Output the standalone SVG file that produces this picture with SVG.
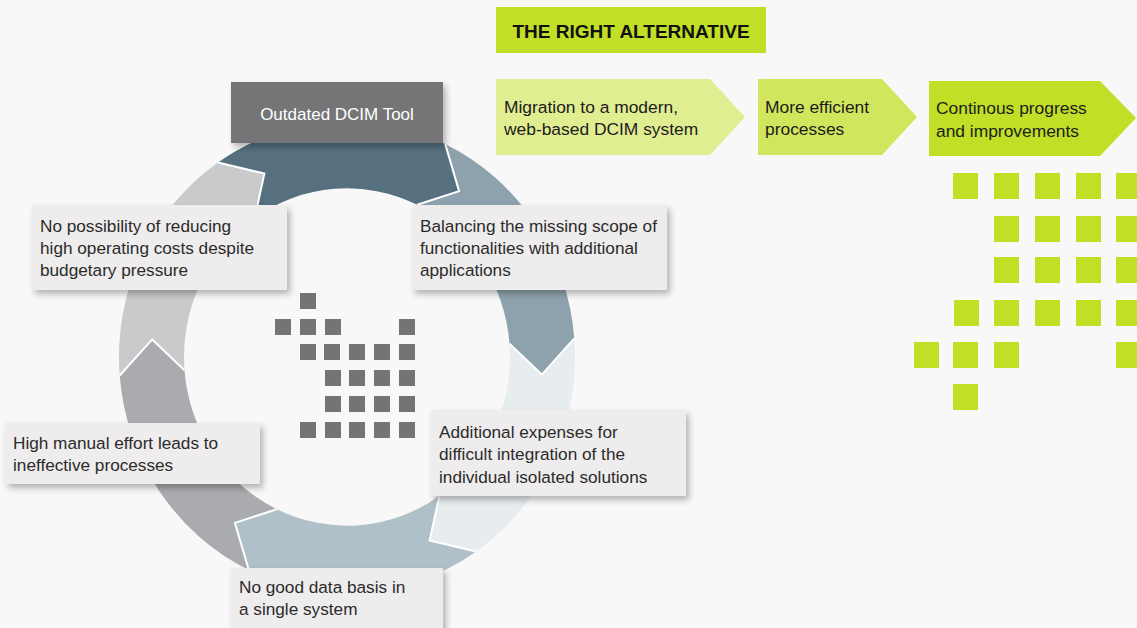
<svg xmlns="http://www.w3.org/2000/svg" width="1137" height="628" viewBox="0 0 1137 628">
  <defs>
    <filter id="shadow" x="-10%" y="-20%" width="125%" height="150%">
      <feDropShadow dx="3" dy="4" stdDeviation="3" flood-color="#000" flood-opacity="0.28"/>
    </filter>
    <style>
      text { font-family: "Liberation Sans", Arial, sans-serif; }
      .box { fill: #eeecec; filter: url(#shadow); }
      .txt { font-size: 17.2px; fill: #2b2b2b; }
      .ctxt { font-size: 17.4px; fill: #1c1c1c; }
      .edge { fill: none; stroke: #ffffff; stroke-width: 2; vector-effect: non-scaling-stroke; stroke-linejoin: miter; }
      .gsq { fill: #737476; }
      .lsq { fill: #c0df25; }
    </style>
  </defs>

  <rect width="1137" height="628" fill="#f8f8f8"/>

  <!-- cycle of six arrow segments -->
  <g id="connectors" transform="translate(347,357) scale(1,1.035)">
    <path id="seg-a" fill="#56707f" d="M -129.1,-187.9 A 228 228 0 0 1 98.2,-205.8 L 112.1,-160.2 L 70.2,-147.1 A 163 163 0 0 0 -92.3,-134.3 L -82.6,-177.2 Z"/>
    <path id="seg-b" fill="#8ea2ad" d="M 98.2,-205.8 A 228 228 0 0 1 227.3,-17.9 L 194.8,17.0 L 162.5,-12.8 A 163 163 0 0 0 70.2,-147.1 L 112.1,-160.2 Z"/>
    <path id="seg-c" fill="#e7ecef" d="M 227.3,-17.9 A 228 228 0 0 1 129.1,187.9 L 82.6,177.2 L 92.3,134.3 A 163 163 0 0 0 162.5,-12.8 L 194.8,17.0 Z"/>
    <path id="seg-d" fill="#afc0c8" d="M 129.1,187.9 A 228 228 0 0 1 -98.2,205.8 L -112.1,160.2 L -70.2,147.1 A 163 163 0 0 0 92.3,134.3 L 82.6,177.2 Z"/>
    <path id="seg-e" fill="#aaabae" d="M -98.2,205.8 A 228 228 0 0 1 -227.3,17.9 L -194.8,-17.0 L -162.5,12.8 A 163 163 0 0 0 -70.2,147.1 L -112.1,160.2 Z"/>
    <path id="seg-f" fill="#c9cacc" d="M -227.3,17.9 A 228 228 0 0 1 -129.1,-187.9 L -82.6,-177.2 L -92.3,-134.3 A 163 163 0 0 0 -162.5,12.8 L -194.8,-17.0 Z"/>
    <!-- white rims along each arrow head -->
    <polyline class="edge" points="98.2,-205.8 112.1,-160.2 70.2,-147.1"/>
    <polyline class="edge" points="227.3,-17.9 194.8,17.0 162.5,-12.8"/>
    <polyline class="edge" points="129.1,187.9 82.6,177.2 92.3,134.3"/>
    <polyline class="edge" points="-98.2,205.8 -112.1,160.2 -70.2,147.1"/>
    <polyline class="edge" points="-227.3,17.9 -194.8,-17.0 -162.5,12.8"/>
    <polyline class="edge" points="-129.1,-187.9 -82.6,-177.2 -92.3,-134.3"/>
  </g>

  <!-- pixel motif in the middle of the cycle -->
  <g id="gray-pixels">
    <rect class="gsq" x="300" y="293" width="16" height="16"/>
    <rect class="gsq" x="275" y="319" width="16" height="16"/>
    <rect class="gsq" x="300" y="319" width="16" height="16"/>
    <rect class="gsq" x="325" y="319" width="16" height="16"/>
    <rect class="gsq" x="399" y="319" width="16" height="16"/>
    <rect class="gsq" x="300" y="344" width="16" height="16"/>
    <rect class="gsq" x="324" y="344" width="16" height="16"/>
    <rect class="gsq" x="349" y="344" width="16" height="16"/>
    <rect class="gsq" x="374" y="344" width="16" height="16"/>
    <rect class="gsq" x="399" y="344" width="16" height="16"/>
    <rect class="gsq" x="325" y="370" width="16" height="16"/>
    <rect class="gsq" x="349" y="370" width="16" height="16"/>
    <rect class="gsq" x="374" y="370" width="16" height="16"/>
    <rect class="gsq" x="399" y="370" width="16" height="16"/>
    <rect class="gsq" x="325" y="396" width="16" height="16"/>
    <rect class="gsq" x="349" y="396" width="16" height="16"/>
    <rect class="gsq" x="374" y="396" width="16" height="16"/>
    <rect class="gsq" x="399" y="396" width="16" height="16"/>
    <rect class="gsq" x="300" y="422" width="16" height="16"/>
    <rect class="gsq" x="325" y="422" width="16" height="16"/>
    <rect class="gsq" x="349" y="422" width="16" height="16"/>
    <rect class="gsq" x="374" y="422" width="16" height="16"/>
    <rect class="gsq" x="399" y="422" width="16" height="16"/>
  </g>

  <g id="node-dcim">
    <rect x="231" y="82" width="212" height="61" fill="#747577" filter="url(#shadow)"/>
    <text x="337" y="120" text-anchor="middle" font-size="17" fill="#ffffff">Outdated DCIM Tool</text>
  </g>

  <g id="node-costs">
    <rect class="box" x="32" y="205" width="255" height="85"/>
    <text class="txt" x="40" y="232">No possibility of reducing</text>
    <text class="txt" x="40" y="254">high operating costs despite</text>
    <text class="txt" x="40" y="276">budgetary pressure</text>
  </g>

  <g id="node-scope">
    <rect class="box" x="412" y="205" width="255" height="85"/>
    <text class="txt" x="420" y="232">Balancing the missing scope of</text>
    <text class="txt" x="420" y="254">functionalities with additional</text>
    <text class="txt" x="420" y="276">applications</text>
  </g>

  <g id="node-expenses">
    <rect class="box" x="431" y="410" width="255" height="86"/>
    <text class="txt" x="439" y="438">Additional expenses for</text>
    <text class="txt" x="439" y="460">difficult integration of the</text>
    <text class="txt" x="439" y="483">individual isolated solutions</text>
  </g>

  <g id="node-manual">
    <rect class="box" x="5" y="423" width="255" height="61"/>
    <text class="txt" x="13" y="449">High manual effort leads to</text>
    <text class="txt" x="13" y="471">ineffective processes</text>
  </g>

  <g id="node-data">
    <rect class="box" x="231" y="568" width="212" height="70"/>
    <text class="txt" x="239" y="593">No good data basis in</text>
    <text class="txt" x="239" y="615">a single system</text>
  </g>

  <g id="node-title">
    <rect x="496" y="7" width="270" height="46" fill="#c1df26"/>
    <text x="631" y="38" text-anchor="middle" font-size="19" font-weight="bold" fill="#111111">THE RIGHT ALTERNATIVE</text>
  </g>

  <g id="node-migration">
    <polygon points="496,79 710,79 745,117 710,155 496,155" fill="#e0ed91"/>
    <text class="ctxt" x="504" y="113">Migration to a modern,</text>
    <text class="ctxt" x="504" y="135">web-based DCIM system</text>
  </g>

  <g id="node-efficient">
    <polygon points="758,79 882,79 917,117 882,155 758,155" fill="#d1e65c"/>
    <text class="ctxt" x="765" y="113">More efficient</text>
    <text class="ctxt" x="765" y="135">processes</text>
  </g>

  <g id="node-progress">
    <polygon points="929,81 1100,81 1136,118 1100,156 929,156" fill="#c1df26"/>
    <text class="ctxt" x="936" y="114">Continous progress</text>
    <text class="ctxt" x="936" y="137">and improvements</text>
  </g>

  <!-- green pixel motif -->
  <g id="green-pixels">
    <rect class="lsq" x="953" y="173" width="25" height="26"/>
    <rect class="lsq" x="994" y="173" width="25" height="26"/>
    <rect class="lsq" x="1035" y="173" width="25" height="26"/>
    <rect class="lsq" x="1076" y="173" width="25" height="26"/>
    <rect class="lsq" x="1116" y="173" width="25" height="26"/>
    <rect class="lsq" x="994" y="216" width="25" height="26"/>
    <rect class="lsq" x="1035" y="216" width="25" height="26"/>
    <rect class="lsq" x="1076" y="216" width="25" height="26"/>
    <rect class="lsq" x="1116" y="216" width="25" height="26"/>
    <rect class="lsq" x="994" y="257" width="25" height="26"/>
    <rect class="lsq" x="1035" y="257" width="25" height="26"/>
    <rect class="lsq" x="1076" y="257" width="25" height="26"/>
    <rect class="lsq" x="1116" y="257" width="25" height="26"/>
    <rect class="lsq" x="954" y="300" width="25" height="26"/>
    <rect class="lsq" x="994" y="300" width="25" height="26"/>
    <rect class="lsq" x="1035" y="300" width="25" height="26"/>
    <rect class="lsq" x="1076" y="300" width="25" height="26"/>
    <rect class="lsq" x="1116" y="300" width="25" height="26"/>
    <rect class="lsq" x="914" y="342" width="25" height="26"/>
    <rect class="lsq" x="953" y="342" width="25" height="26"/>
    <rect class="lsq" x="994" y="342" width="25" height="26"/>
    <rect class="lsq" x="1116" y="342" width="25" height="26"/>
    <rect class="lsq" x="953" y="384" width="25" height="26"/>
  </g>
</svg>
